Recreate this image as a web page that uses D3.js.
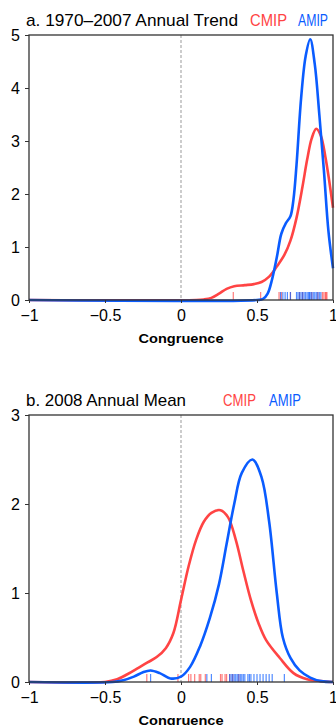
<!DOCTYPE html>
<html lang="en">
<head>
<meta charset="UTF-8">
<script src="https://d3js.org/d3.v7.min.js"></script>
<style>
  body { margin: 0; padding: 0; background: #fff; }
  svg text { font-family: 'Liberation Sans', Arial, sans-serif; fill: #000; }
</style>
</head>
<body>
<div id="chart"></div>
<script>
// tick values / labels
const xTicks = [-1, -0.5, 0, 0.5, 1];
const xTickLabels = ["\u22121", "\u22120.5", "0", "0.5", "1"];
const trendYTicks = [0, 1, 2, 3, 4, 5];
const meanYTicks = [0, 1, 2, 3];

// a. 1970-2007 annual trend: density curves (congruence, density)
const trendCmipX = [-1, 0.1, 0.15, 0.2, 0.25, 0.3, 0.35, 0.42, 0.48, 0.53, 0.58, 0.63, 0.68, 0.72, 0.76, 0.8, 0.83, 0.86, 0.89, 0.92, 0.95, 0.975, 1.0];
const trendCmipY = [0, 0, 0.01, 0.04, 0.12, 0.21, 0.26, 0.28, 0.3, 0.34, 0.44, 0.63, 0.85, 1.12, 1.55, 2.15, 2.65, 3.05, 3.23, 3.1, 2.7, 2.25, 1.74];
const trendAmipX = [-1, 0.5, 0.54, 0.57, 0.6, 0.63, 0.66, 0.69, 0.72, 0.74, 0.76, 0.79, 0.82, 0.85, 0.88, 0.91, 0.94, 0.97, 1.0];
const trendAmipY = [0, 0, 0.02, 0.12, 0.4, 0.8, 1.25, 1.45, 1.58, 1.9, 2.55, 3.8, 4.6, 4.92, 4.45, 3.5, 2.45, 1.3, 0.6];
// individual models (rug)
const trendCmipRug = [0.344, 0.524, 0.645, 0.66, 0.72, 0.78, 0.8, 0.86, 0.9, 0.93, 0.94, 0.95, 0.955, 0.96];
const trendAmipRug = [0.655, 0.67, 0.685, 0.7, 0.72, 0.76, 0.77, 0.78, 0.79, 0.8, 0.81, 0.82, 0.83, 0.84, 0.845, 0.85, 0.86, 0.87, 0.88, 0.89, 0.9, 0.91, 0.92];

// b. 2008 annual mean
const meanCmipX = [-1, -0.5, -0.42, -0.35, -0.28, -0.22, -0.16, -0.1, -0.05, 0, 0.05, 0.1, 0.15, 0.2, 0.26, 0.31, 0.36, 0.41, 0.46, 0.51, 0.56, 0.65, 0.74, 0.83, 0.92, 1.0];
const meanCmipY = [0, 0, 0.03, 0.09, 0.16, 0.22, 0.28, 0.38, 0.55, 0.92, 1.3, 1.6, 1.8, 1.9, 1.93, 1.85, 1.6, 1.25, 0.92, 0.66, 0.47, 0.27, 0.1, 0.03, 0.01, 0];
const meanAmipX = [-1, -0.45, -0.38, -0.31, -0.25, -0.2, -0.14, -0.07, 0, 0.06, 0.125, 0.19, 0.25, 0.3, 0.35, 0.4, 0.47, 0.53, 0.58, 0.63, 0.67, 0.72, 0.78, 0.85, 0.92, 1.0];
const meanAmipY = [0, 0, 0.02, 0.06, 0.11, 0.13, 0.1, 0.04, 0.06, 0.17, 0.4, 0.72, 1.1, 1.55, 2.0, 2.35, 2.5, 2.3, 1.8, 1.0, 0.5, 0.27, 0.13, 0.05, 0.01, 0];
const meanCmipRug = [-0.225, -0.02, 0.05, 0.065, 0.09, 0.12, 0.13, 0.16, 0.26, 0.27, 0.29, 0.3, 0.32, 0.34, 0.38];
const meanAmipRug = [-0.2, 0.17, 0.2, 0.32, 0.33, 0.34, 0.35, 0.36, 0.37, 0.38, 0.39, 0.4, 0.41, 0.42, 0.44, 0.45, 0.46, 0.48, 0.5, 0.52, 0.54, 0.56, 0.58, 0.6, 0.68];

const red = "#ff4444", blue = "#0a5cff";

const svg = d3.select("#chart").append("svg")
  .attr("width", 336).attr("height", 725);

const x = d3.scaleLinear().domain([-1, 1]).range([29, 333]);

function panel(opt) {
  const y = d3.scaleLinear().domain([0, opt.yMax]).range([opt.bottom, opt.top]);
  const g = svg.append("g");

  // zero line
  g.append("line")
    .attr("x1", x(0)).attr("x2", x(0))
    .attr("y1", y(opt.yMax)).attr("y2", y(0))
    .attr("stroke", "#999").attr("stroke-width", 1)
    .attr("stroke-dasharray", "3,2");

  // rugs
  const rugs = [[opt.cmipRug, red], [opt.amipRug, blue]];
  rugs.forEach(([vals, col]) => {
    g.selectAll(null).data(vals).enter().append("line")
      .attr("x1", d => x(d)).attr("x2", d => x(d))
      .attr("y1", y(0)).attr("y2", y(0) - 8)
      .attr("stroke", col).attr("stroke-width", 1.2)
      .attr("opacity", 0.7);
  });

  const line = d3.line()
    .x(d => x(d[0])).y(d => y(d[1]))
    .curve(d3.curveCatmullRom.alpha(0.5));

  g.append("path")
    .attr("d", line(d3.zip(opt.cmipX, opt.cmipY)))
    .attr("fill", "none").attr("stroke", red).attr("stroke-width", 2.6);
  g.append("path")
    .attr("d", line(d3.zip(opt.amipX, opt.amipY)))
    .attr("fill", "none").attr("stroke", blue).attr("stroke-width", 2.6);

  // frame
  g.append("rect")
    .attr("x", x(-1)).attr("y", y(opt.yMax))
    .attr("width", x(1) - x(-1)).attr("height", y(0) - y(opt.yMax))
    .attr("fill", "none").attr("stroke", "#333").attr("stroke-width", 1.3);

  // axes
  const xa = g.append("g").attr("transform", `translate(0,${y(0)})`)
    .call(d3.axisBottom(x).tickValues(xTicks)
      .tickFormat((d, i) => xTickLabels[i]).tickSize(3).tickPadding(7));
  xa.select(".domain").remove();
  xa.selectAll("line").attr("stroke", "#333");
  xa.selectAll("text").attr("font-size", 16).attr("fill", "#000");

  const ya = g.append("g").attr("transform", `translate(${x(-1)},0)`)
    .call(d3.axisLeft(y).tickValues(opt.yTicks).tickFormat(d3.format("d"))
      .tickSize(4).tickPadding(5));
  ya.select(".domain").remove();
  ya.selectAll("line").attr("stroke", "#333");
  ya.selectAll("text").attr("font-size", 16).attr("fill", "#000");

  g.append("text")
    .attr("x", x(0)).attr("y", y(0) + 43)
    .attr("text-anchor", "middle").attr("font-size", 13).attr("font-weight", "bold")
    .attr("textLength", 85).attr("lengthAdjust", "spacingAndGlyphs")
    .text("Congruence");

  // title
  g.append("text").attr("x", 26).attr("y", opt.titleY)
    .attr("font-size", 17).attr("textLength", opt.titleW).attr("lengthAdjust", "spacingAndGlyphs")
    .text(opt.title);
  g.append("text").attr("x", opt.cmipX0).attr("y", opt.titleY)
    .attr("font-size", 17).style("fill", red)
    .attr("textLength", opt.cmipW).attr("lengthAdjust", "spacingAndGlyphs")
    .text("CMIP");
  g.append("text").attr("x", opt.amipX0).attr("y", opt.titleY)
    .attr("font-size", 17).style("fill", blue)
    .attr("textLength", opt.amipW).attr("lengthAdjust", "spacingAndGlyphs")
    .text("AMIP");
}

panel({
  top: 35, bottom: 300, yMax: 5, yTicks: trendYTicks,
  cmipX: trendCmipX, cmipY: trendCmipY, amipX: trendAmipX, amipY: trendAmipY,
  cmipRug: trendCmipRug, amipRug: trendAmipRug,
  title: "a. 1970\u20132007 Annual Trend", titleY: 26, titleW: 212,
  cmipX0: 250, cmipW: 37, amipX0: 298, amipW: 30
});

panel({
  top: 415, bottom: 682, yMax: 3, yTicks: meanYTicks,
  cmipX: meanCmipX, cmipY: meanCmipY, amipX: meanAmipX, amipY: meanAmipY,
  cmipRug: meanCmipRug, amipRug: meanAmipRug,
  title: "b. 2008 Annual Mean", titleY: 406, titleW: 160,
  cmipX0: 223, cmipW: 33, amipX0: 269, amipW: 32
});
</script>
</body>
</html>
